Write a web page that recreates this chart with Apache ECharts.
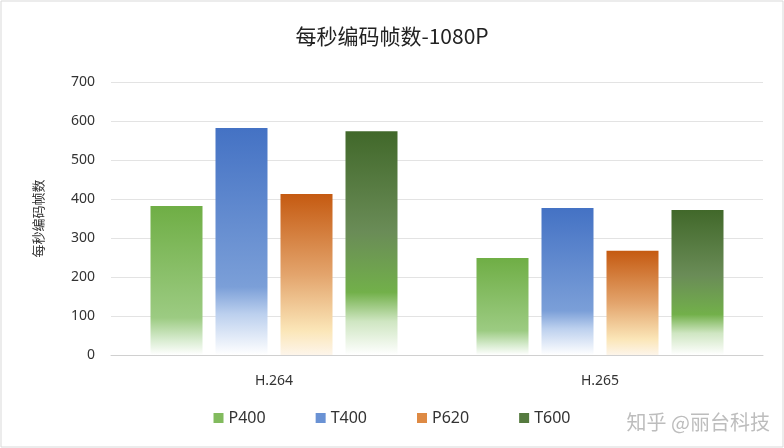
<!DOCTYPE html>
<html><head><meta charset="utf-8">
<script src="https://cdn.jsdelivr.net/npm/echarts@6/dist/echarts.min.js"></script>
<style>html,body{margin:0;padding:0;background:#fff}#c{width:784px;height:448px}</style>
</head><body><div id="c"></div>
<script>
const categories = ['H.264', 'H.265'];
const seriesNames = ['P400', 'T400', 'P620', 'T600'];
const p400 = [382, 249];
const t400 = [582, 377];
const p620 = [413, 267];
const t600 = [574, 372];
const yTicks = [0, 100, 200, 300, 400, 500, 600, 700];

const G = echarts.graphic.LinearGradient;
const grads = [
  new G(0,0,0,1,[{offset:0,color:'#6fae45'},{offset:0.75,color:'#9ccb82'},{offset:0.9,color:'#d8ecd0'},{offset:1,color:'#ffffff'}]),
  new G(0,0,0,1,[{offset:0,color:'#4472c4'},{offset:0.7,color:'#7b9fd8'},{offset:0.82,color:'#bcd0ee'},{offset:1,color:'#ffffff'}]),
  new G(0,0,0,1,[{offset:0,color:'#c55a11'},{offset:0.5,color:'#e3a46c'},{offset:0.85,color:'#fbe6b8'},{offset:1,color:'#fdf5ea'}]),
  new G(0,0,0,1,[{offset:0,color:'#41682a'},{offset:0.45,color:'#6a8c57'},{offset:0.72,color:'#72b04a'},{offset:0.85,color:'#cfe6c2'},{offset:1,color:'#ffffff'}])
];
const legendColors = ['#82bb5e', '#6a92d4', '#de8a44', '#557a3f'];
const dataSets = [p400, t400, p620, t600];

const chart = echarts.init(document.getElementById('c'));
chart.setOption({
  animation: false,
  backgroundColor: '#fff',
  title: {
    text: '每秒编码帧数-1080P', left: 'center', top: 21,
    textStyle: {fontFamily: 'Noto Sans CJK SC', fontSize: 21, fontWeight: 'normal', color: '#222'}
  },
  legend: {
    data: seriesNames.map((n,i)=>({name:n, itemStyle:{color:legendColors[i]}})),
    bottom: 17, left: 'center', itemWidth: 10, itemHeight: 10, itemGap: 50,
    icon: 'rect',
    textStyle: {fontFamily: 'Noto Sans', fontSize: 16, color: '#333'}
  },
  grid: {left: 111, right: 21, top: 82, bottom: 93},
  xAxis: {
    type: 'category', data: categories,
    axisLine: {lineStyle: {color: '#d0d0d0'}},
    axisTick: {show: false},
    axisLabel: {fontFamily: 'Noto Sans', fontSize: 14, color: '#333', margin: 19}
  },
  yAxis: {
    type: 'value', min: 0, max: 700, interval: 100,
    name: '每秒编码帧数', nameLocation: 'middle', nameGap: 66, nameRotate: 90,
    nameTextStyle: {fontFamily: 'Noto Sans CJK SC', fontSize: 13, color: '#333'},
    axisLine: {show: false}, axisTick: {show: false},
    axisLabel: {fontFamily: 'Noto Sans', fontSize: 14, color: '#333', margin: 16,
      formatter: v => yTicks.includes(v) ? String(v) : ''},
    splitLine: {lineStyle: {color: '#e3e3e3'}}
  },
  series: seriesNames.map((n,i)=>({
    name: n, type: 'bar', data: dataSets[i],
    barWidth: 52, barGap: '25%',
    itemStyle: {color: grads[i]}
  })),
  graphic: [
    {type:'rect', shape:{x:1,y:1,width:782,height:446}, style:{fill:'none', stroke:'#d9d9d9', lineWidth:1}, silent:true},
    {type:'text', right: 14, bottom: 16, style:{text:'知乎 @丽台科技', fill:'#bdbdbd', font:'20px "Noto Sans CJK SC"'}}
  ]
});
</script></body></html>
